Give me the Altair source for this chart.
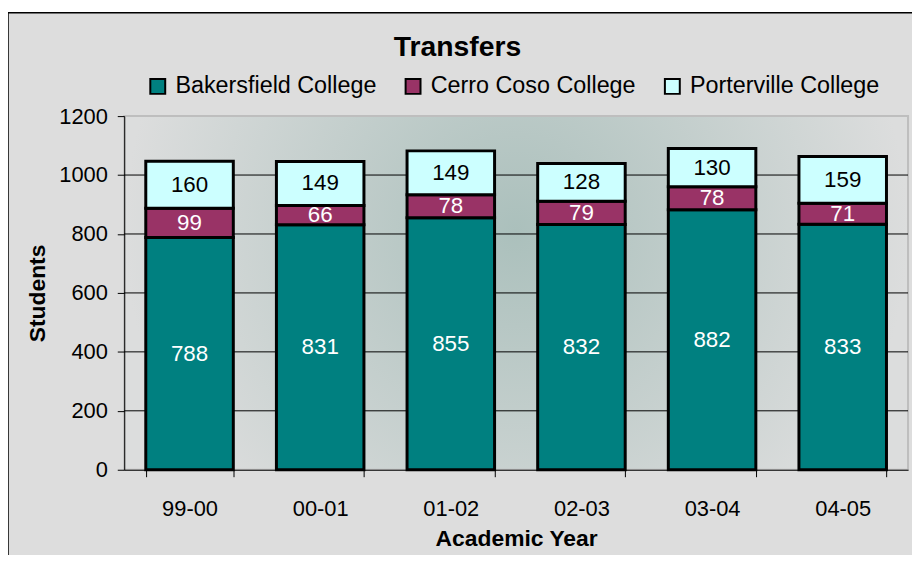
import altair as alt
import pandas as pd

years = ["99-00", "00-01", "01-02", "02-03", "03-04", "04-05"]
colleges = ["Bakersfield College", "Cerro Coso College", "Porterville College"]
bakersfield = [788, 831, 855, 832, 882, 833]
cerro_coso = [99, 66, 78, 79, 78, 71]
porterville = [160, 149, 149, 128, 130, 159]
y_ticks = [0, 200, 400, 600, 800, 1000, 1200]
grid_vals = [200, 400, 600, 800, 1000]

rows = []
for i, yr in enumerate(years):
    for k, (name, vals) in enumerate(zip(colleges, [bakersfield, cerro_coso, porterville])):
        rows.append({"year": yr, "college": name, "students": vals[i], "order": k})
df = pd.DataFrame(rows)
grid_df = pd.DataFrame({"v": grid_vals})

FONT = "Liberation Sans, Arial, sans-serif"
W, H = 789, 356
PB = 84

xenc = alt.X("year:N", sort=years,
             scale=alt.Scale(paddingInner=0.33, paddingOuter=0.165),
             axis=alt.Axis(title="Academic Year", labelAngle=0, tickBand="extent",
                           labelFontSize=22, labelFont=FONT, labelColor="black",
                           labelPadding=22, tickSize=7, tickColor="black",
                           domainColor="black", titleFontSize=23, titleFont=FONT,
                           titleFontWeight="bold", titleColor="black", titlePadding=8,
                           zindex=1))
yscale = alt.Scale(domain=[0, 1200], nice=False)
yaxis = alt.Axis(title="Students", values=y_ticks, format="d", grid=False,
                 labelFontSize=22, labelFont=FONT, labelColor="black", labelPadding=10,
                 tickSize=7, tickColor="black", domainColor="black", titleFontSize=23,
                 titleFont=FONT, titleFontWeight="bold", titleColor="black",
                 titlePadding=9, zindex=1)

one = alt.Data(values=[{"a": 1}])

frame = alt.Chart(one).mark_rect(fill="#DDDDDD", stroke="black", strokeWidth=1.5).encode(
    x=alt.value(-117), x2=alt.value(820), y=alt.value(-104), y2=alt.value(H + PB + 20))

plotbg = alt.Chart(one).mark_rect(
    fill=alt.Gradient(gradient="radial", x1=0.5, y1=0.42, r1=0, x2=0.5, y2=0.42, r2=0.5,
                      stops=[alt.GradientStop(color="#ABC0BC", offset=0),
                             alt.GradientStop(color="#DCDDDD", offset=1)]),
    stroke="#BEBEBE", strokeWidth=2).encode(
    x=alt.value(0), x2=alt.value(W), y=alt.value(0), y2=alt.value(H))

grid = alt.Chart(grid_df).mark_rule(color="black", strokeWidth=1).encode(
    y=alt.Y("v:Q", scale=yscale, axis=yaxis), x=alt.value(0), x2=alt.value(W))

bars = alt.Chart(df).mark_bar(stroke="black", strokeWidth=3).encode(
    x=xenc,
    y=alt.Y("students:Q", stack="zero", scale=yscale, axis=yaxis),
    color=alt.Color("college:N",
                    scale=alt.Scale(domain=colleges, range=["#008080", "#993366", "#CCFFFF"]),
                    legend=alt.Legend(title=None, orient="none", legendX=22, legendY=-42,
                                      direction="horizontal", symbolType="square",
                                      symbolSize=225, symbolStrokeWidth=2,
                                      symbolStrokeColor="black", symbolOpacity=1,
                                      labelFontSize=23.5, labelFont=FONT,
                                      labelColor="black", labelLimit=400,
                                      columnPadding=25, labelOffset=6)),
    order=alt.Order("order:Q", sort="ascending"),
)

labels = alt.Chart(df).transform_stack(
    stack="students", groupby=["year"], as_=["y0", "y1"],
    sort=[alt.SortField("order", order="ascending")]
).transform_calculate(mid="(datum.y0 + datum.y1) / 2").mark_text(
    fontSize=22.5, font=FONT, baseline="middle", align="center").encode(
    x=alt.X("year:N", sort=years),
    y=alt.Y("mid:Q", scale=yscale),
    text=alt.Text("students:Q"),
    color=alt.condition(alt.datum.college == "Porterville College",
                        alt.value("black"), alt.value("white")),
)

chart = alt.layer(frame, plotbg, grid, bars, labels).properties(
    width=W, height=H,
    title=alt.TitleParams("Transfers", fontSize=28.5, font=FONT, fontWeight="bold",
                          color="black", anchor="middle", dx=-59, offset=-50),
    autosize=alt.AutoSizeParams(type="none"),
    padding={"left": 117, "top": 107, "right": 4, "bottom": PB},
).configure_view(stroke=None).configure(background="white")

chart.save("out.html", embed_options={"renderer": "svg", "actions": False})
